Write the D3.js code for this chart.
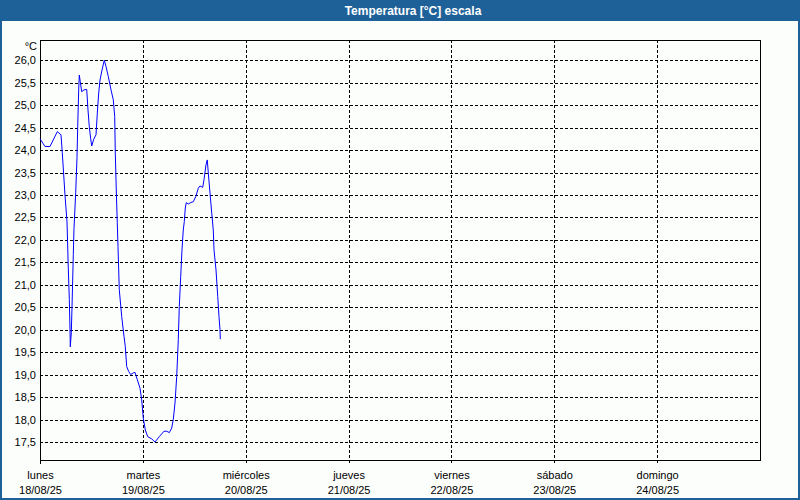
<!DOCTYPE html>
<html><head><meta charset="utf-8">
<script src="https://cdn.jsdelivr.net/npm/d3@7"></script>
<style>body{margin:0;background:#fcfefc}svg{display:block}</style>
</head><body>
<script>
const title = "Temperatura [°C] escala";
const unitLabel = "°C";
const dayNames = ["lunes","martes","miércoles","jueves","viernes","sábado","domingo"];
const dayDates = ["18/08/25","19/08/25","20/08/25","21/08/25","22/08/25","23/08/25","24/08/25"];
const yTicks = [17.5,18.0,18.5,19.0,19.5,20.0,20.5,21.0,21.5,22.0,22.5,23.0,23.5,24.0,24.5,25.0,25.5,26.0];
// hours since 18/08/25 00:00
const hours = [0,1.17,2.33,4.04,4.9,5.2,5.83,6.3,6.6,6.84,7.0,7.07,7.3,7.47,7.77,7.93,8.33,8.63,8.8,9.03,9.17,9.4,9.73,10.27,10.9,11.2,11.5,11.83,12.07,12.53,13.07,13.37,13.7,14.0,14.47,15.0,15.4,15.93,16.57,17.1,17.43,17.57,17.8,18.03,18.2,18.5,19.07,19.6,19.9,20.23,20.7,21.17,21.77,22.17,22.7,23.33,23.73,24.1,24.57,25.13,26.07,26.83,27.83,28.93,29.57,30.17,30.73,31.1,31.5,31.9,32.27,32.5,32.83,33.13,33.43,33.67,33.9,34.13,34.6,35.17,35.77,36.33,36.93,37.33,37.97,38.27,38.73,39.03,39.27,39.67,40.07,40.43,40.6,41.07,41.47,41.77,42.0,42.07];
const temps = [24.25,24.08,24.08,24.41,24.34,23.94,23.0,22.4,21.38,20.67,20.0,19.62,19.93,20.5,21.67,22.25,23.05,23.83,24.52,25.34,25.67,25.52,25.30,25.34,25.35,24.89,24.52,24.25,24.09,24.24,24.34,24.82,25.27,25.56,25.78,26.0,25.86,25.64,25.34,25.12,24.75,23.93,23.11,22.38,21.85,20.89,20.29,19.85,19.63,19.18,19.07,19.0,19.04,19.05,18.89,18.70,18.44,18.03,17.77,17.62,17.57,17.50,17.62,17.74,17.74,17.71,17.81,18.0,18.37,18.96,19.78,20.52,21.18,21.78,22.22,22.41,22.71,22.83,22.80,22.83,22.85,22.96,23.15,23.20,23.17,23.34,23.67,23.78,23.49,23.04,22.60,22.22,21.78,21.33,20.74,20.29,20.0,19.79];

const W = 800, H = 500;
const svg = d3.select("body").append("svg").attr("width", W).attr("height", H);
svg.append("rect").attr("x",0).attr("y",0).attr("width",W).attr("height",H).attr("fill","#fcfefc");
svg.append("rect").attr("x",1).attr("y",1).attr("width",W-2).attr("height",H-2)
  .attr("fill","none").attr("stroke","#1e6199").attr("stroke-width",2);
svg.append("rect").attr("x",0).attr("y",0).attr("width",W).attr("height",21).attr("fill","#1e6199");
svg.append("text").attr("x",413).attr("y",15).attr("text-anchor","middle")
  .attr("fill","#fff").attr("font-family","'Liberation Sans',Arial,sans-serif")
  .attr("font-weight","bold").attr("font-size",12).text(title);

const L = 40, R = 760, T = 40, B = 460;
const x = d3.scaleLinear().domain([0, 168]).range([L, R]);
const y = d3.scaleLinear().domain([17.1, 26.45]).range([B, T]);
const font = "'Liberation Sans',Arial,sans-serif";
const dash = "3,2";

// horizontal grid
svg.append("g").selectAll("line").data(yTicks).join("line")
  .attr("x1", L).attr("x2", R)
  .attr("y1", d => Math.round(y(d)) + 0.5).attr("y2", d => Math.round(y(d)) + 0.5)
  .attr("stroke", "#000").attr("stroke-dasharray", dash).attr("shape-rendering","crispEdges");
// vertical grid
const dayIdx = d3.range(7);
svg.append("g").selectAll("line").data(dayIdx.slice(1)).join("line")
  .attr("x1", d => Math.round(x(d*24)) + 0.5).attr("x2", d => Math.round(x(d*24)) + 0.5)
  .attr("y1", T).attr("y2", B + 4)
  .attr("stroke", "#000").attr("stroke-dasharray", dash).attr("shape-rendering","crispEdges");

// frame
svg.append("rect").attr("x", L + 0.5).attr("y", T + 0.5).attr("width", R - L).attr("height", B - T)
  .attr("fill","none").attr("stroke","#000").attr("shape-rendering","crispEdges");
svg.append("line").attr("x1", L + 0.5).attr("x2", L + 0.5).attr("y1", B).attr("y2", B + 4)
  .attr("stroke","#000").attr("shape-rendering","crispEdges");

// y labels
svg.append("g").selectAll("text").data(yTicks).join("text")
  .attr("x", 36).attr("y", d => y(d) + 4).attr("text-anchor","end")
  .attr("font-family", font).attr("font-size", 11).attr("fill","#000")
  .text(d => d.toFixed(1).replace(".", ","));
svg.append("text").attr("x", 37).attr("y", 50).attr("text-anchor","end")
  .attr("font-family", font).attr("font-size", 11).text(unitLabel);

// x labels
const xl = svg.append("g").selectAll("g").data(dayIdx).join("g");
xl.append("text").attr("x", d => x(d*24) + 0.5).attr("y", 479).attr("text-anchor","middle")
  .attr("font-family", font).attr("font-size", 11).text(d => dayNames[d]);
xl.append("text").attr("x", d => x(d*24) + 0.5).attr("y", 494).attr("text-anchor","middle")
  .attr("font-family", font).attr("font-size", 11).text(d => dayDates[d]);

// line
const pts = hours.map((h, i) => [h, temps[i]]);
svg.append("path").datum(pts)
  .attr("d", d3.line().x(d => x(d[0])).y(d => y(d[1])))
  .attr("fill","none").attr("stroke","#0000ff").attr("stroke-width",1);
</script>
</body></html>
